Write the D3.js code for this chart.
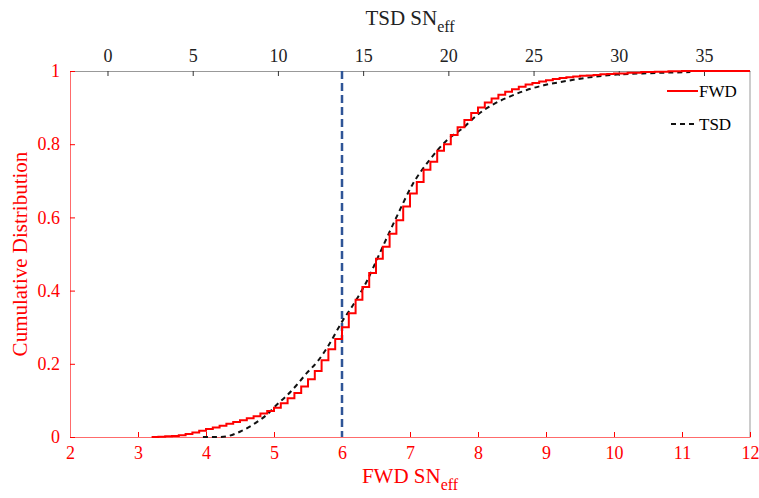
<!DOCTYPE html>
<html>
<head>
<meta charset="utf-8">
<script src="https://cdn.jsdelivr.net/npm/d3@7"></script>
<style>
  body { margin: 0; background: #fff; }
  text { font-family: "Liberation Serif", "Times New Roman", serif; }
</style>
</head>
<body>
<div id="chart"></div>
<script>
const fwdX = [3.2, 3.3, 3.4, 3.5, 3.6, 3.7, 3.8, 3.9, 4.0, 4.1, 4.2, 4.3, 4.4, 4.5, 4.6, 4.7, 4.8, 4.9,
  5.0, 5.1, 5.2, 5.3, 5.4, 5.5, 5.6, 5.7, 5.8, 5.9, 6.0, 6.1, 6.2, 6.3, 6.4, 6.5, 6.6, 6.7, 6.8, 6.9,
  7.0, 7.1, 7.2, 7.3, 7.4, 7.5, 7.6, 7.7, 7.8, 7.9, 8.0, 8.1, 8.2, 8.3, 8.4, 8.5, 8.6, 8.7, 8.8, 8.9,
  9.0, 9.1, 9.2, 9.3, 9.4, 9.5, 9.6, 9.7, 9.8, 9.9, 10.0, 10.2, 10.4, 10.6, 10.8, 11.0, 12.0];
const fwdP = [0.000, 0.001, 0.002, 0.003, 0.005, 0.008, 0.012, 0.017, 0.022, 0.026, 0.031, 0.036, 0.041, 0.046, 0.051, 0.057, 0.064, 0.071,
  0.080, 0.092, 0.106, 0.120, 0.138, 0.158, 0.180, 0.210, 0.240, 0.268, 0.300, 0.338, 0.375, 0.410, 0.448, 0.487, 0.520, 0.555, 0.592, 0.630,
  0.665, 0.697, 0.730, 0.752, 0.782, 0.800, 0.825, 0.846, 0.866, 0.885, 0.900, 0.914, 0.925, 0.935, 0.943, 0.950, 0.957, 0.963, 0.967, 0.971,
  0.975, 0.978, 0.981, 0.983, 0.985, 0.987, 0.988, 0.989, 0.991, 0.992, 0.993, 0.995, 0.997, 0.998, 0.999, 1.000, 1.000];

// TSD CDF (in TSD units, top axis)
const tsdX = [5.6, 6.5, 7.0, 7.8, 8.8, 9.4, 9.9, 10.5, 11.1, 11.7, 12.3, 12.9, 13.8, 14.4, 15.2, 15.8, 16.2,
  17.0, 17.9, 18.9, 19.9, 20.9, 21.7, 22.6, 23.6, 24.6, 25.6, 26.6, 27.6, 28.5, 29.5, 31.8, 34.2];
const tsdP = [0, 0, 0.002, 0.015, 0.042, 0.063, 0.087, 0.112, 0.142, 0.175, 0.205, 0.245, 0.318, 0.36, 0.424, 0.484, 0.525,
  0.605, 0.69, 0.757, 0.81, 0.846, 0.88, 0.908, 0.93, 0.948, 0.961, 0.97, 0.978, 0.984, 0.989, 0.994, 0.997];

const bottomTicks = [2, 3, 4, 5, 6, 7, 8, 9, 10, 11, 12];
const topTicks = [0, 5, 10, 15, 20, 25, 30, 35];
const yTicks = [0, 0.2, 0.4, 0.6, 0.8, 1];
const cutoffFWD = 6;

const width = 759;
const height = 498;
const margin = { top: 71, right: 9, bottom: 61, left: 70 };

const svg = d3.select("#chart")
  .append("svg")
  .attr("width", width)
  .attr("height", height);

const x = d3.scaleLinear().domain([2, 12]).range([margin.left, width - margin.right]);
const xTop = d3.scaleLinear().domain([-2.2, 37.7]).range([margin.left, width - margin.right]);
const y = d3.scaleLinear().domain([0, 1]).range([height - margin.bottom, margin.top]);

const red = "#ff0000";

// top axis (TSD)
const topAxis = svg.append("g")
  .attr("transform", "translate(0," + margin.top + ")")
  .call(d3.axisTop(xTop).tickValues(topTicks).tickSize(-5).tickSizeOuter(0).tickPadding(9));
topAxis.select(".domain").attr("stroke", "#999");
topAxis.selectAll(".tick line").attr("stroke", "#333");
topAxis.selectAll("text").attr("fill", "#222").style("font-size", "18px").style("font-family", "Liberation Serif");

// right border
svg.append("line")
  .attr("x1", width - margin.right).attr("x2", width - margin.right)
  .attr("y1", margin.top).attr("y2", height - margin.bottom)
  .attr("stroke", "#999");

// bottom axis (FWD)
const bottomAxis = svg.append("g")
  .attr("transform", "translate(0," + (height - margin.bottom) + ")")
  .call(d3.axisBottom(x).tickValues(bottomTicks).tickFormat(d3.format("d")).tickSize(-5).tickSizeOuter(0).tickPadding(9));
bottomAxis.select(".domain").attr("stroke", "#ff6b6b");
bottomAxis.selectAll(".tick line").attr("stroke", red);
bottomAxis.selectAll("text").attr("fill", red).style("font-size", "18px").style("font-family", "Liberation Serif");

// left axis
const leftAxis = svg.append("g")
  .attr("transform", "translate(" + margin.left + ",0)")
  .call(d3.axisLeft(y).tickValues(yTicks).tickFormat(function(d) { return d === 0 || d === 1 ? d : d.toFixed(1); })
    .tickSize(-5).tickSizeOuter(0).tickPadding(10));
leftAxis.select(".domain").attr("stroke", "#ff6b6b");
leftAxis.selectAll(".tick line").attr("stroke", red);
leftAxis.selectAll("text").attr("fill", red).style("font-size", "18px").style("font-family", "Liberation Serif");

// cutoff line
svg.append("line")
  .attr("x1", x(cutoffFWD)).attr("x2", x(cutoffFWD))
  .attr("y1", y(1)).attr("y2", y(0))
  .attr("stroke", "#2f5597")
  .attr("stroke-width", 2.5)
  .attr("stroke-dasharray", "8,4");

// TSD dashed curve
const tsdData = tsdX.map(function(d, i) { return { x: d, p: tsdP[i] }; });
svg.append("path")
  .datum(tsdData)
  .attr("fill", "none")
  .attr("stroke", "#111")
  .attr("stroke-width", 2)
  .attr("stroke-dasharray", "5,4")
  .attr("d", d3.line()
    .x(function(d) { return xTop(d.x); })
    .y(function(d) { return y(d.p); })
    .curve(d3.curveMonotoneX));

// FWD step curve
const fwdData = fwdX.map(function(d, i) { return { x: d, p: fwdP[i] }; });
svg.append("path")
  .datum(fwdData)
  .attr("fill", "none")
  .attr("stroke", red)
  .attr("stroke-width", 2)
  .attr("d", d3.line()
    .x(function(d) { return x(d.x); })
    .y(function(d) { return y(d.p); })
    .curve(d3.curveStepAfter));

// legend
const legend = svg.append("g").attr("transform", "translate(667,91)");
legend.append("line").attr("x1", 0).attr("x2", 31).attr("y1", 0).attr("y2", 0)
  .attr("stroke", red).attr("stroke-width", 2);
legend.append("text").attr("x", 32).attr("y", 6).style("font-size", "17px").text("FWD");
legend.append("line").attr("x1", 4).attr("x2", 31).attr("y1", 33).attr("y2", 33)
  .attr("stroke", "#111").attr("stroke-width", 2).attr("stroke-dasharray", "5,4");
legend.append("text").attr("x", 32).attr("y", 39).style("font-size", "17px").text("TSD");

// axis titles
const topTitle = svg.append("text")
  .attr("x", 410).attr("y", 25)
  .attr("text-anchor", "middle")
  .attr("fill", "#222")
  .style("font-size", "21px");
topTitle.append("tspan").text("TSD SN");
topTitle.append("tspan").attr("dy", 7).style("font-size", "16px").text("eff");

const bottomTitle = svg.append("text")
  .attr("x", 410).attr("y", 483)
  .attr("text-anchor", "middle")
  .attr("fill", red)
  .style("font-size", "21px");
bottomTitle.append("tspan").text("FWD SN");
bottomTitle.append("tspan").attr("dy", 7).style("font-size", "16px").text("eff");

svg.append("text")
  .attr("transform", "rotate(-90)")
  .attr("x", -(margin.top + height - margin.bottom) / 2)
  .attr("y", 27)
  .attr("text-anchor", "middle")
  .attr("fill", red)
  .style("font-size", "21px")
  .text("Cumulative Distribution");
</script>
</body>
</html>
